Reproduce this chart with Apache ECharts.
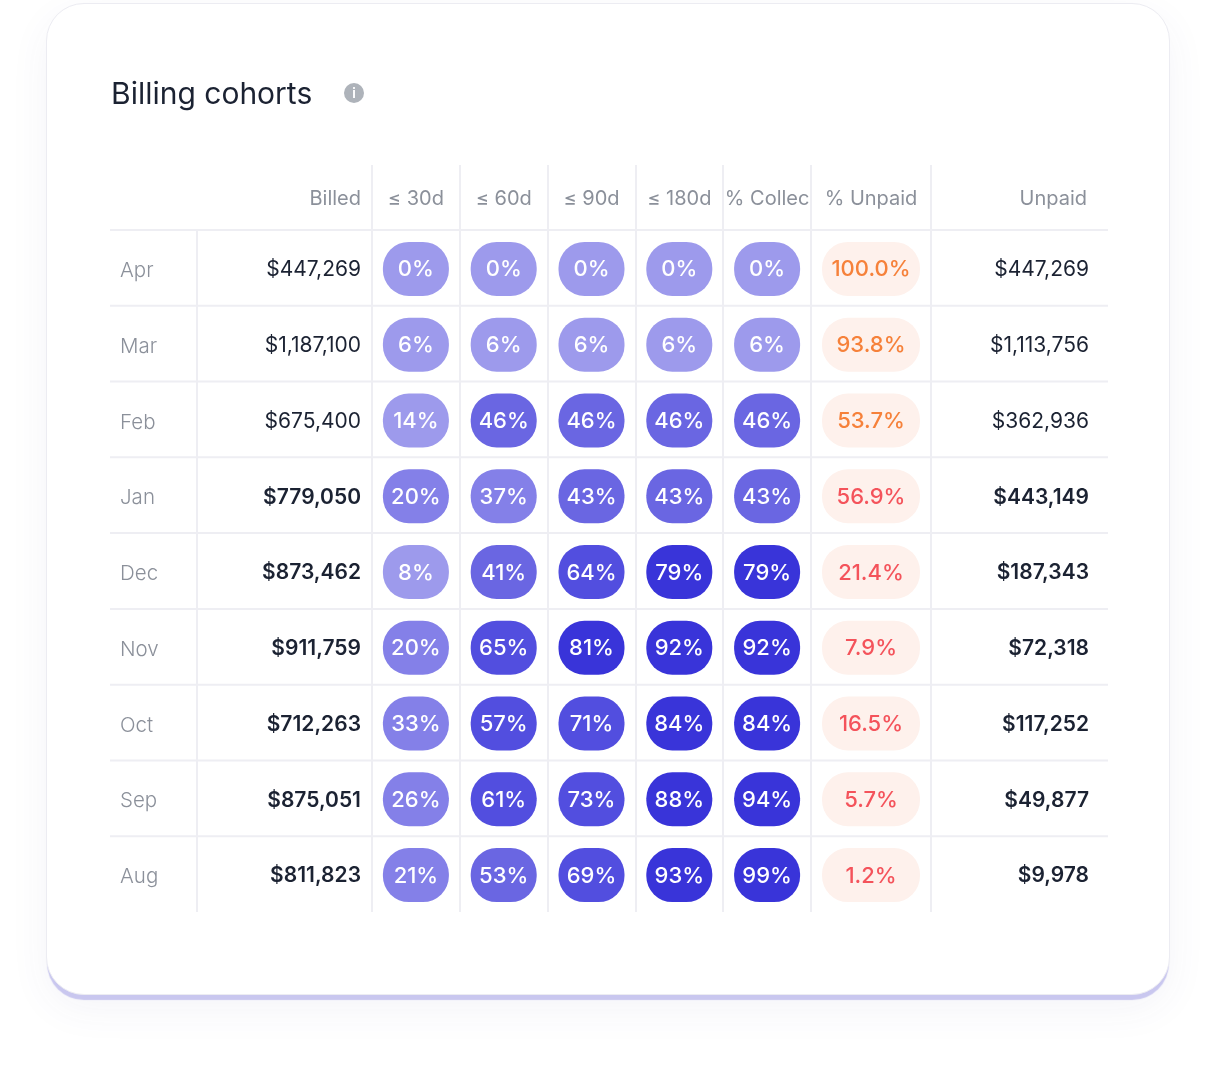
<!DOCTYPE html>
<html>
<head>
<meta charset="utf-8">
<script src="https://cdn.jsdelivr.net/npm/echarts@6/dist/echarts.min.js"></script>
<style>
  html, body { margin: 0; padding: 0; background: #fff; }
  #card {
    position: absolute; left: 46px; top: 3px; width: 1122px; height: 990px;
    border-radius: 38px; background: #fff; border: 1.5px solid #ececf2;
    box-shadow: 0 6px 1px -1px #c9c7ef, 0 14px 40px rgba(70, 70, 130, 0.06);
  }
  #chart { position: absolute; left: 0; top: 0; width: 1214px; height: 1082px; }
</style>
</head>
<body>
<div id="card"></div>
<div id="chart"></div>
<script>
const months = ['Apr', 'Mar', 'Feb', 'Jan', 'Dec', 'Nov', 'Oct', 'Sep', 'Aug'];
const billed = [447269, 1187100, 675400, 779050, 873462, 911759, 712263, 875051, 811823];
const bucketNames = ['≤ 30d', '≤ 60d', '≤ 90d', '≤ 180d', '% Collected'];
const within30 = [0, 6, 14, 20, 8, 20, 33, 26, 21];
const within60 = [0, 6, 46, 37, 41, 65, 57, 61, 53];
const within90 = [0, 6, 46, 43, 64, 81, 71, 73, 69];
const within180 = [0, 6, 46, 43, 79, 92, 84, 88, 93];
const collected = [0, 6, 46, 43, 79, 92, 84, 94, 99];
const unpaidPct = [100.0, 93.8, 53.7, 56.9, 21.4, 7.9, 16.5, 5.7, 1.2];
const unpaid = [447269, 1113756, 362936, 443149, 187343, 72318, 117252, 49877, 9978];

const FONT = 'Inter, "Noto Sans", sans-serif';
const LINE = '#eeeef3';
const MUTED = '#8b909a';
const INK = '#1b2232';
// the three newest cohorts are still open
const OPEN_ROWS = 3;

function money(v) {
  return '$' + v.toLocaleString('en-US');
}

function pillColor(v) {
  if (v >= 76) return '#3934d9';
  if (v >= 57) return '#524edf';
  if (v >= 40) return '#6a66e2';
  if (v >= 20) return '#8480e8';
  return '#9d9aec';
}

function cellBox(api, col, row) {
  const c = api.coord([col, row]);
  const s = api.size([1, 1]);
  return {x: c[0] - s[0] / 2, y: c[1] - s[1] / 2, w: s[0], h: s[1], cx: c[0], cy: c[1] + 1};
}

function topLine(b) {
  return {type: 'line', shape: {x1: b.x, y1: b.y, x2: b.x + b.w, y2: b.y},
    style: {stroke: LINE, lineWidth: 2}};
}

function plainText(text, x, y, align, color, weight) {
  return {type: 'text', style: {text: text, x: x, y: y, align: align, verticalAlign: 'middle',
    fill: color, fontSize: 21, fontWeight: weight, fontFamily: FONT}};
}

function pill(b, w, fill, text, color) {
  return [
    {type: 'rect', shape: {x: b.cx - w / 2, y: b.cy - 27, width: w, height: 54, r: 26},
      style: {fill: fill}},
    {type: 'text', style: {text: text, x: b.cx, y: b.cy + 1, align: 'center', verticalAlign: 'middle',
      fill: color, fontSize: 22, fontWeight: 500, fontFamily: FONT}}
  ];
}

// column groups of the table, each one a grid sharing the same rows
const grids = [
  {left: 110, width: 87},
  {left: 197, width: 175},
  {left: 372, width: 439},
  {left: 811, width: 120},
  {left: 931, width: 177}
].map(g => ({left: g.left, width: g.width, top: 230, height: 682}));

const baseLabel = {color: MUTED, fontSize: 20, fontFamily: FONT, margin: 31, verticalAlign: 'middle', interval: 0};

function xAxis(gridIndex, names, opts) {
  return Object.assign({
    type: 'category',
    gridIndex: gridIndex,
    position: 'top',
    data: names,
    axisLine: {show: false},
    axisTick: {show: false},
    splitLine: {show: false},
    axisLabel: baseLabel
  }, opts);
}

const headerLabel = (width) => Object.assign({}, baseLabel, {
  formatter: v => '{r|' + v + '}',
  rich: {r: {width: width, align: 'right', color: MUTED, fontSize: 20, fontFamily: FONT}}
});

const vLines = {show: true, interval: 0, lineStyle: {color: LINE, width: 2}};
const hTicks = {show: true, interval: 0, length: 65, inside: false, lineStyle: {color: LINE, width: 2}};

const xAxes = [
  xAxis(0, ['']),
  xAxis(1, ['Billed'], {splitLine: vLines, axisLabel: headerLabel(153)}),
  xAxis(2, bucketNames, {splitLine: vLines, axisTick: hTicks,
    axisLabel: Object.assign({}, baseLabel, {width: 88, overflow: 'truncate', ellipsis: ''})}),
  xAxis(3, ['% Unpaid'], {splitLine: vLines, axisTick: hTicks}),
  xAxis(4, ['Unpaid'], {axisLabel: headerLabel(135)})
];

const yAxes = grids.map((g, i) => ({
  type: 'category', gridIndex: i, data: months, inverse: true, show: false
}));

const rows = months.map((m, i) => i);
const bucketData = [];
[within30, within60, within90, within180, collected].forEach((arr, col) => {
  arr.forEach((v, row) => bucketData.push([col, row, v]));
});

const series = [
  {
    type: 'custom', xAxisIndex: 0, yAxisIndex: 0,
    data: rows.map(r => [0, r]),
    renderItem: (params, api) => {
      const row = api.value(1);
      const b = cellBox(api, 0, row);
      return {type: 'group', children: [
        topLine(b),
        {type: 'text', style: {text: months[row], x: b.x + 10, y: b.cy + 2, align: 'left',
          verticalAlign: 'middle', fill: MUTED, fontSize: 20.5, fontWeight: 300, fontFamily: FONT}}
      ]};
    }
  },
  {
    type: 'custom', xAxisIndex: 1, yAxisIndex: 1,
    data: billed.map((v, r) => [0, r, v]),
    renderItem: (params, api) => {
      const row = api.value(1);
      const b = cellBox(api, 0, row);
      return {type: 'group', children: [
        topLine(b),
        plainText(money(api.value(2)), b.x + b.w - 11, b.cy + 1, 'right', INK, row < OPEN_ROWS ? 400 : 600)
      ]};
    }
  },
  {
    type: 'custom', xAxisIndex: 2, yAxisIndex: 2,
    data: bucketData,
    renderItem: (params, api) => {
      const col = api.value(0);
      const row = api.value(1);
      const v = api.value(2);
      const b = cellBox(api, col, row);
      return {type: 'group', children: [topLine(b)].concat(
        pill(b, 66, pillColor(v), v + '%', '#ffffff'))};
    }
  },
  {
    type: 'custom', xAxisIndex: 3, yAxisIndex: 3,
    data: unpaidPct.map((v, r) => [0, r, v]),
    renderItem: (params, api) => {
      const row = api.value(1);
      const v = api.value(2);
      const b = cellBox(api, 0, row);
      const color = row < OPEN_ROWS ? '#f6813a' : '#f4535b';
      return {type: 'group', children: [topLine(b)].concat(
        pill(b, 98, '#fef1ec', v.toFixed(1) + '%', color))};
    }
  },
  {
    type: 'custom', xAxisIndex: 4, yAxisIndex: 4,
    data: unpaid.map((v, r) => [0, r, v]),
    renderItem: (params, api) => {
      const row = api.value(1);
      const b = cellBox(api, 0, row);
      return {type: 'group', children: [
        topLine(b),
        plainText(money(api.value(2)), b.x + b.w - 19, b.cy + 1, 'right', INK, row < OPEN_ROWS ? 400 : 600)
      ]};
    }
  }
];

const option = {
  backgroundColor: 'transparent',
  animation: false,
  title: {
    text: 'Billing cohorts',
    left: 106,
    top: 75,
    textStyle: {fontSize: 30, fontWeight: 400, color: INK, fontFamily: FONT}
  },
  graphic: [
    {type: 'circle', shape: {cx: 354, cy: 93, r: 10}, style: {fill: '#aeb3ba'}},
    {type: 'text', style: {text: 'i', x: 354, y: 94, align: 'center', verticalAlign: 'middle',
      fill: '#fff', fontSize: 13, fontWeight: 700, fontFamily: FONT}}
  ],
  grid: grids,
  xAxis: xAxes,
  yAxis: yAxes,
  series: series
};

const myChart = echarts.init(document.getElementById('chart'));
myChart.setOption(option);
</script>
</body>
</html>
